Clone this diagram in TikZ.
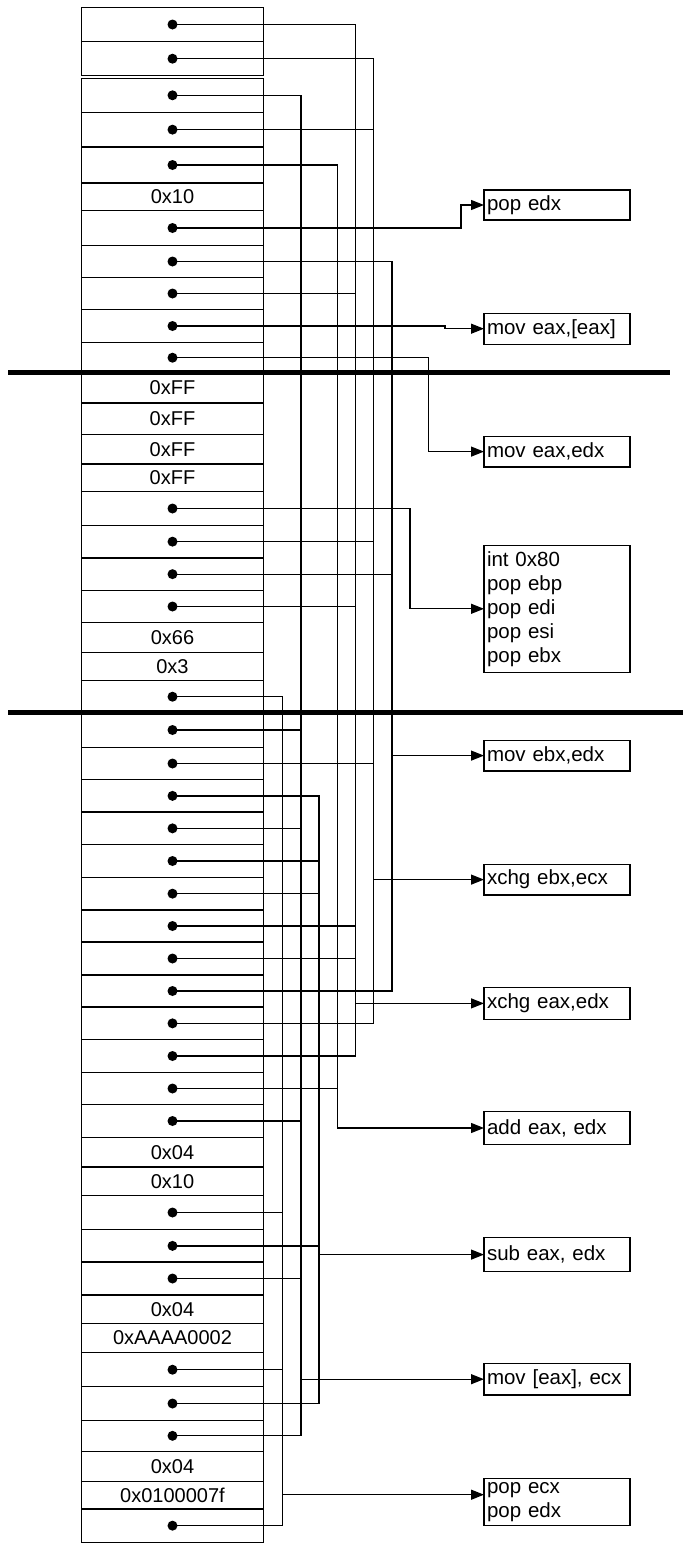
\documentclass[tikz,border=0pt]{standalone}
\usepackage{fontspec}
\setmainfont{Liberation Sans}
\usetikzlibrary{arrows.meta, positioning}
\tikzset{
  every picture/.style={line width=1.3pt, x=1pt, y=-1pt},
  cell/.style={draw, minimum width=182pt, minimum height=#1pt, inner sep=0pt, outer sep=0pt,
               font=\fontsize{20}{22}\selectfont},
  gadget/.style={draw, anchor=west, minimum height=#1pt, text width=140pt, inner sep=3pt, outer sep=0pt,
                 align=left, font=\fontsize{20.5}{24}\selectfont},
  wire/.style={line width=1.3pt},
  feed/.style={-{Triangle[length=13pt, width=10pt]}, line width=1.3pt},
  bar/.style={line width=5pt},
}
\begin{document}
\begin{tikzpicture}
  \useasboundingbox (0,0) rectangle (683,1543);
  % ---------- stack column ----------
  \node[cell=34.4, anchor=north] (r1) at (172.5,7.3) {};
  \foreach \lab/\h [count=\i from 2, remember=\i as \j (initially 1)] in {
      {}/34.0, {}/34.0, {}/34.7, {}/36.0, 0x10/27.7, {}/34.6, {}/32.4, {}/31.6, {}/33.4, {}/30.0,
      0xFF/30.3, 0xFF/31.7, 0xFF/29.3, 0xFF/27.7, {}/33.6, {}/32.7, {}/32.3, {}/32.4, 0x66/30.0, 0x3/28.0,
      {}/32.0, {}/34.6, {}/32.4, {}/32.3, {}/32.7, {}/32.6, {}/32.7, {}/32.0, {}/33.0, {}/32.0,
      {}/32.7, {}/32.6, {}/32.4, {}/32.6, 0x04/29.7, 0x10/28.3, {}/34.4, {}/32.3, {}/33.0, 0x04/28.3,
      0xAAAA0002/29.4, {}/34.0, {}/33.6, {}/31.0, 0x04/30.0, 0x0100007f/27.7, {}/33.3} {
    \ifnum\i=3 \def\gap{2.6pt}\else\def\gap{0pt}\fi
    \node[cell=\h, below=\gap of r\j] (r\i) {\lab};
  }
  % ---------- gadgets ----------
  \node[gadget=30] (popedx) at (484,205) {pop edx};
  \node[gadget=31] (moveax) at (484,328.7) {mov eax,[eax]};
  \node[gadget=30.5] (movaxdx) at (484,451.6) {mov eax,edx};
  \node[gadget=127] (intbox) at (484,608.8) {int 0x80\\pop ebp\\pop edi\\pop esi\\pop ebx};
  \node[gadget=30.7] (movebx) at (484,755.6) {mov ebx,edx};
  \node[gadget=30.7] (xchgbc) at (484,879.6) {xchg ebx,ecx};
  \node[gadget=31.6] (xchgad) at (484,1003.4) {xchg eax,edx};
  \node[gadget=33.4] (addad) at (484,1128) {add eax, edx};
  \node[gadget=34.3] (subad) at (484,1254.6) {sub eax, edx};
  \node[gadget=31.7] (movstore) at (484,1379.2) {mov [eax], ecx};
  \node[gadget=46.6] (popcd) at (484,1502) {pop ecx\\pop edx};
  \coordinate (popcdin) at ([yshift=7.3pt]popcd.west);
  % ---------- buses: x index / target / stack rows ----------
  \foreach \k/\gad/\taps in {1/popcdin/{22,38,43,48}, 2/movstore.west/{3,23,26,35,40,45},
      3/subad.west/{25,27,28,39,44}, 4/addad.west/{5,34}, 5/xchgad.west/{1,9,19,29,30,33},
      6/xchgbc.west/{2,4,17,24,32}, 7/movebx.west/{8,18,31}, 8/intbox.west/{16}, 9/movaxdx.west/{11}} {
    \coordinate (b\k) at (264.5+18.2*\k,0);
    \foreach \r in \taps {
      \draw[wire] (r\r.center) -| (b\k |- \gad);
      \fill (r\r.center) circle (5pt);
    }
    \draw[feed] (b\k |- \gad) -- (\gad);
  }
  % direct feeds with a small jog
  \coordinate (j1) at (461,0);
  \coordinate (j2) at (445,0);
  \draw[feed] (r7.center) -| (j1 |- popedx.west) -- (popedx.west);
  \fill (r7.center) circle (5pt);
  \draw[feed] (r10.center) -| (j2 |- moveax.west) -- (moveax.west);
  \fill (r10.center) circle (5pt);
  % ---------- thick separators ----------
  \coordinate (barL) at (8,0);
  \coordinate (barR) at (670,0);
  \draw[bar] (barL |- r11.south) -- (barR |- r11.south);
  \draw[bar] (barL |- r22.south) -- (683,0 |- r22.south);
\end{tikzpicture}
\end{document}
